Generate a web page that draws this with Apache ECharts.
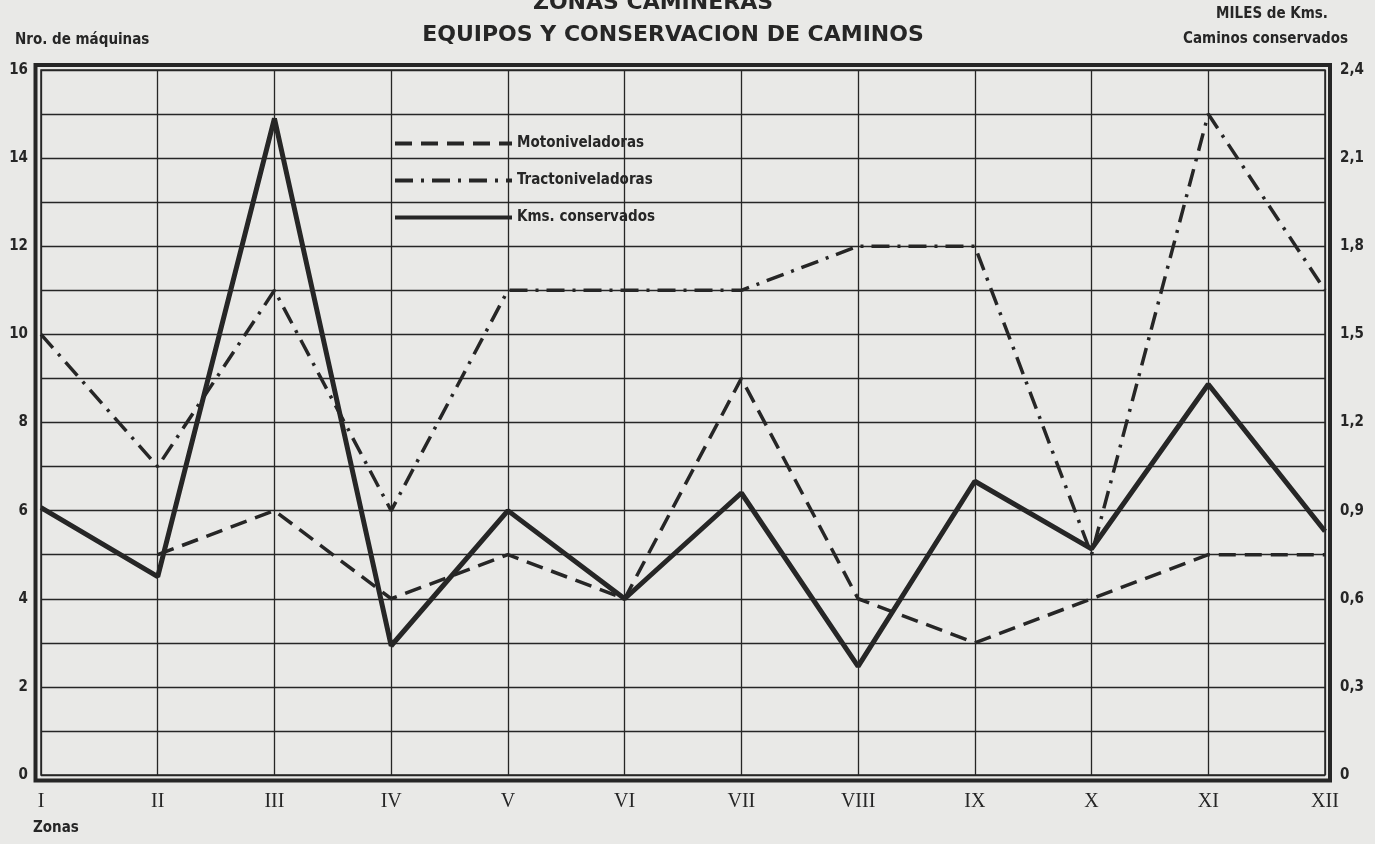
<!DOCTYPE html>
<html>
<head>
<meta charset="utf-8">
<title>Zonas camineras</title>
<script src="https://cdn.jsdelivr.net/npm/echarts@6/dist/echarts.min.js"></script>
<style>
  html, body { margin: 0; padding: 0; background: #e9e9e7; }
  #chart { width: 1375px; height: 844px; }
</style>
</head>
<body>
<div id="chart"></div>
<script>
// Zonas camineras: machines per zone (left axis) and thousands of km of roads kept (right axis)
const zonas = ['I', 'II', 'III', 'IV', 'V', 'VI', 'VII', 'VIII', 'IX', 'X', 'XI', 'XII'];
const motoniveladoras = [null, 5, 6, 4, 5, 4, 9, 4, 3, 4, 5, 5];
const tractoniveladoras = [10, 7, 11, 6, 11, 11, 11, 12, 12, 5, 15, 11];
const kmsConservados = [0.91, 0.675, 2.235, 0.44, 0.9, 0.6, 0.96, 0.37, 1.0, 0.77, 1.33, 0.83];
const maquinasTicks = [0, 2, 4, 6, 8, 10, 12, 14, 16];
const kmsTicks = [0, 0.3, 0.6, 0.9, 1.2, 1.5, 1.8, 2.1, 2.4];

const ink = '#262626';
const narrow = '"Liberation Sans Narrow", "DejaVu Sans Condensed", "Roboto Condensed", "Noto Sans", sans-serif';
const heading = {
  fontFamily: '"DejaVu Sans", "Liberation Sans", sans-serif',
  fontWeight: 'bold',
  fontSize: 22,
  color: ink
};

const chart = echarts.init(document.getElementById('chart'));
chart.setOption({
  backgroundColor: '#e9e9e7',
  animation: false,
  color: [ink, ink, ink],
  title: [
    { text: 'ZONAS CAMINERAS', left: 648, textAlign: 'center', top: -13, textStyle: heading },
    { text: 'EQUIPOS Y CONSERVACION DE CAMINOS', left: 668, textAlign: 'center', top: 19, textStyle: heading }
  ],
  legend: {
    orient: 'vertical',
    left: 388,
    top: 131,
    itemWidth: 117,
    itemHeight: 14,
    itemGap: 22,
    selectedMode: false,
    itemStyle: { opacity: 0 },
    lineStyle: { width: 4 },
    textStyle: { fontFamily: narrow, fontWeight: 'bold', fontSize: 15, color: ink },
    data: ['Motoniveladoras', 'Tractoniveladoras', 'Kms. conservados']
  },
  grid: { left: 41, right: 50, top: 70, bottom: 69, show: true, borderColor: ink, borderWidth: 1.5 },
  xAxis: {
    type: 'category',
    data: zonas,
    boundaryGap: false,
    axisLine: { show: false },
    axisTick: { show: false },
    axisLabel: { margin: 17, fontFamily: '"Liberation Serif", "DejaVu Serif", serif', fontSize: 20, color: ink },
    splitLine: { show: true, interval: 0, lineStyle: { color: ink, width: 1.3 } }
  },
  yAxis: [
    {
      type: 'value',
      min: 0, max: 16, interval: 1,
      axisLine: { show: false },
      axisTick: { show: false },
      axisLabel: {
        margin: 13,
        fontFamily: narrow, fontWeight: 'bold', fontSize: 15, color: ink,
        formatter: v => (maquinasTicks.includes(v) ? String(v) : '')
      },
      splitLine: { show: true, lineStyle: { color: ink, width: 1.3 } }
    },
    {
      type: 'value',
      min: 0, max: 2.4, interval: 0.15,
      position: 'right',
      axisLine: { show: false },
      axisTick: { show: false },
      splitLine: { show: false },
      axisLabel: {
        margin: 15,
        fontFamily: narrow, fontWeight: 'bold', fontSize: 15, color: ink,
        formatter: v => {
          const t = kmsTicks.find(k => Math.abs(k - v) < 1e-6);
          return t === undefined ? '' : String(t).replace('.', ',');
        }
      }
    }
  ],
  series: [
    {
      name: 'Motoniveladoras', type: 'line', data: motoniveladoras,
      symbol: 'none', z: 3,
      itemStyle: { color: ink },
      lineStyle: { color: ink, width: 3.5, type: [17, 9] }
    },
    {
      name: 'Tractoniveladoras', type: 'line', data: tractoniveladoras,
      symbol: 'none', z: 3,
      itemStyle: { color: ink },
      lineStyle: { color: ink, width: 3.5, type: [18, 8, 3, 8] }
    },
    {
      name: 'Kms. conservados', type: 'line', data: kmsConservados, yAxisIndex: 1,
      symbol: 'none', z: 4,
      itemStyle: { color: ink },
      lineStyle: { color: ink, width: 5, type: 'solid' }
    }
  ],
  graphic: [
    // outer heavy frame around the plotting area
    { type: 'rect', silent: true, shape: { x: 35.5, y: 65, width: 1294.5, height: 715.5 },
      style: { fill: 'none', stroke: ink, lineWidth: 4 } },
    { type: 'text', left: 15, top: 33,
      style: { text: 'Nro. de máquinas', font: 'bold 15px ' + narrow, fill: ink } },
    { type: 'text', right: 47, top: 7,
      style: { text: 'MILES de Kms.', font: 'bold 15px ' + narrow, fill: ink } },
    { type: 'text', right: 27, top: 32,
      style: { text: 'Caminos conservados', font: 'bold 15px ' + narrow, fill: ink } },
    { type: 'text', left: 33, top: 821,
      style: { text: 'Zonas', font: 'bold 15px ' + narrow, fill: ink } }
  ]
});
</script>
</body>
</html>
